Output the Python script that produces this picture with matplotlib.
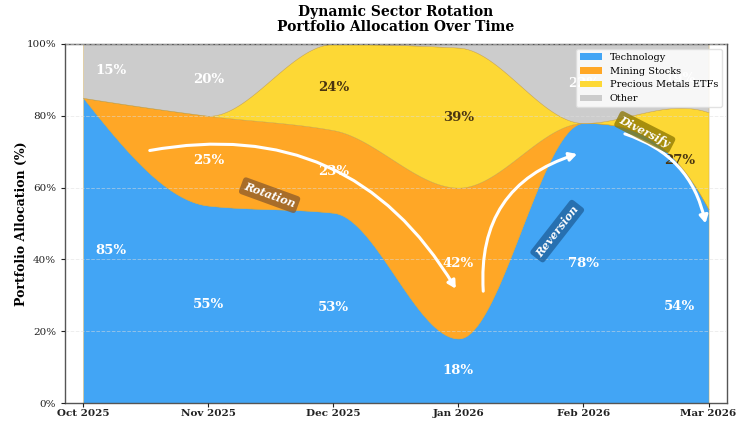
import numpy as np
import matplotlib
matplotlib.use("Agg")
import matplotlib.pyplot as plt
from matplotlib.patches import FancyArrowPatch, Patch

plt.rcParams['font.family'] = ['DejaVu Serif']

months = ["Oct 2025", "Nov 2025", "Dec 2025", "Jan 2026", "Feb 2026", "Mar 2026"]
technology = [85, 55, 53, 18, 78, 54]
mining = [0, 25, 23, 42, 0, 0]
precious = [0, 0, 24, 39, 0, 27]
other = [15, 20, 0, 1, 22, 19]

names = ["Technology", "Mining Stocks", "Precious Metals ETFs", "Other"]
colors = ["#42A5F5", "#FFA726", "#FDD835", "#CCCCCC"]
label_colors = ["white", "white", "#4a3510", "white"]


def pchip(x, y, xs):  # monotone cubic, no overshoot between months
    x = np.asarray(x, float)
    y = np.asarray(y, float)
    h = np.diff(x)
    delta = np.diff(y) / h
    n = len(x)
    d = np.zeros(n)
    for k in range(1, n - 1):
        if delta[k - 1] * delta[k] > 0:
            w1 = 2 * h[k] + h[k - 1]
            w2 = h[k] + 2 * h[k - 1]
            d[k] = (w1 + w2) / (w1 / delta[k - 1] + w2 / delta[k])

    def edge(h0, h1, m0, m1):
        dd = ((2 * h0 + h1) * m0 - h0 * m1) / (h0 + h1)
        if np.sign(dd) != np.sign(m0):
            dd = 0.0
        elif np.sign(m0) != np.sign(m1) and abs(dd) > abs(3 * m0):
            dd = 3 * m0
        return dd

    d[0] = edge(h[0], h[1], delta[0], delta[1])
    d[-1] = edge(h[-1], h[-2], delta[-1], delta[-2])
    idx = np.clip(np.searchsorted(x, xs) - 1, 0, n - 2)
    t = (xs - x[idx]) / h[idx]
    h00 = 2 * t**3 - 3 * t**2 + 1
    h10 = t**3 - 2 * t**2 + t
    h01 = -2 * t**3 + 3 * t**2
    h11 = t**3 - t**2
    return h00 * y[idx] + h10 * h[idx] * d[idx] + h01 * y[idx + 1] + h11 * h[idx] * d[idx + 1]


x = np.arange(len(months))
xs = np.linspace(0, len(months) - 1, 600)
series = [technology, mining, precious, other]
cum = np.cumsum(np.array(series, float), axis=0)
cum_smooth = np.array([pchip(x, c, xs) for c in cum])
bands = np.diff(np.vstack([np.zeros(len(xs)), cum_smooth]), axis=0)
bands = np.clip(bands, 0, None)

fig, ax = plt.subplots(figsize=(7.4, 4.23), dpi=100)
fig.subplots_adjust(left=0.088, right=0.982, top=0.896, bottom=0.047)

ax.stackplot(xs, *bands, colors=colors, edgecolor="#c8a040", linewidth=0.3)

# percentage labels in the middle of each band (edge months nudged inward)
label_x = x.astype(float).copy()
label_x[0] += 0.22
label_x[-1] -= 0.23
bottom = np.zeros(len(months))
for s, lc in zip(series, label_colors):
    s = np.array(s, float)
    for i in range(len(months)):
        if s[i] >= 5:
            ax.text(label_x[i], bottom[i] + s[i] / 2, f"{int(s[i])}%", ha="center", va="center",
                    color=lc, fontsize=9.5, fontweight="bold", zorder=4)
    bottom += s

# arrows
arrows = [((0.51, 70.2), (2.99, 31.2), -0.35),
          ((3.20, 30.4), (3.97, 69.6), -0.4),
          ((4.31, 75.2), (4.98, 49.3), -0.3)]
for p0, p1, rad in arrows:
    ax.add_patch(FancyArrowPatch(p0, p1, connectionstyle=f"arc3,rad={rad}",
                                 arrowstyle="-|>,head_length=4.5,head_width=2.5",
                                 color="white", lw=2.2, zorder=5))

tags = [("Rotation", 1.49, 57.9, -20, "#8B5A2B"),
        ("Reversion", 3.79, 47.9, 52, "#1f5f99"),
        ("Diversify", 4.49, 75.5, -27, "#8B7500")]
for txt, tx, ty, rot, fc in tags:
    ax.text(tx, ty, txt, rotation=rot, ha="center", va="center", color="white",
            fontsize=8, fontweight="bold", fontstyle="italic", zorder=6,
            bbox=dict(boxstyle="round,pad=0.3", fc=fc, ec="none", alpha=0.75))

ax.set_xlim(-0.145, 5.145)
ax.set_ylim(0, 100)
ax.set_xticks(x)
ax.set_xticklabels(months, fontweight="bold", fontsize=7.5)
ax.set_yticks(np.arange(0, 101, 20))
ax.set_yticklabels([f"{v}%" for v in range(0, 101, 20)], fontsize=7.5)
ax.set_ylabel("Portfolio Allocation (%)", fontweight="bold", fontsize=9, labelpad=-1.5)
ax.set_title("Dynamic Sector Rotation\nPortfolio Allocation Over Time", fontweight="bold",
             fontsize=10, linespacing=1.1, pad=9)
ax.set_axisbelow(False)
ax.yaxis.grid(True, linestyle="--", color="#dddddd", alpha=0.5, linewidth=0.7)
for sp in ax.spines.values():
    sp.set_color("#555555")
    sp.set_linewidth(1.0)
ax.tick_params(colors="#222222", length=3)
ax.tick_params(axis="x", pad=1.5)

handles = [Patch(facecolor=c, label=n) for c, n in zip(colors, names)]
leg = ax.legend(handles=handles, loc="upper right", fontsize=7, framealpha=0.85,
                borderpad=0.4, handlelength=2.2, edgecolor="#dddddd")
leg.set_zorder(10)

plt.savefig("out.png", dpi=100)
